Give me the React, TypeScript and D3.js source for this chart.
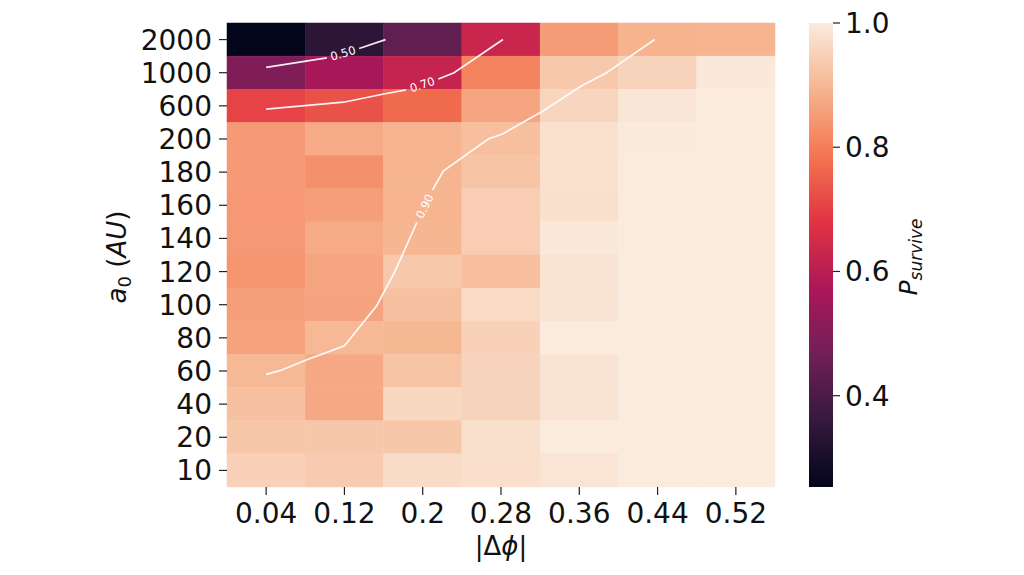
import * as d3 from "d3"

// columns and rows of the heatmap
const dphiLabels = ["0.04", "0.12", "0.2", "0.28", "0.36", "0.44", "0.52"]
const a0Labels = ["2000", "1000", "600", "200", "180", "160", "140", "120", "100", "80", "60", "40", "20", "10"]

// P_survive per row (top to bottom), one value per |dphi| column
const pSurvive = [
  [0.253, 0.34, 0.44, 0.63, 0.852, 0.891, 0.895],
  [0.495, 0.565, 0.623, 0.81, 0.932, 0.953, 0.994],
  [0.706, 0.73, 0.767, 0.869, 0.957, 0.99, 1.0],
  [0.848, 0.876, 0.895, 0.914, 0.98, 0.998, 1.0],
  [0.848, 0.831, 0.895, 0.924, 0.98, 1.0, 1.0],
  [0.845, 0.855, 0.895, 0.942, 0.978, 1.0, 1.0],
  [0.846, 0.876, 0.897, 0.942, 0.997, 1.0, 1.0],
  [0.841, 0.869, 0.932, 0.914, 0.985, 1.0, 1.0],
  [0.858, 0.865, 0.916, 0.967, 0.985, 1.0, 1.0],
  [0.862, 0.901, 0.899, 0.949, 1.0, 1.0, 1.0],
  [0.903, 0.872, 0.924, 0.953, 0.985, 1.0, 1.0],
  [0.918, 0.872, 0.963, 0.953, 0.986, 1.0, 1.0],
  [0.928, 0.93, 0.93, 0.978, 1.0, 1.0, 1.0],
  [0.949, 0.938, 0.971, 0.977, 0.987, 1.0, 1.0],
]

// contour lines as [|dphi|, row position], split where the label sits
const contour050 = [
  [[0.04, 0.84], [0.102, 0.55]],
  [[0.135, 0.27], [0.162, 0.0]],
]
const contour070 = [
  [[0.04, 2.1], [0.119, 1.89], [0.159, 1.65], [0.183, 1.52]],
  [[0.216, 1.19], [0.232, 1.0], [0.282, 0.0]],
]
const contour090 = [
  [[0.437, 0.0], [0.387, 1.02], [0.362, 1.4], [0.322, 2.17], [0.282, 2.84], [0.267, 3.0], [0.221, 3.97], [0.21, 4.54]],
  [[0.194, 5.52], [0.181, 6.38], [0.172, 6.97], [0.153, 8.03], [0.12, 9.24], [0.081, 9.67], [0.054, 9.99], [0.04, 10.1]],
]
const contourLevels = ["0.50", "0.70", "0.90"]

const cbarTicks = [0.4, 0.6, 0.8, 1.0]
const vMin = 0.253
const vMax = 1.0

// seaborn "rocket" anchors
const rocket = ["#03051a", "#35193e", "#701f57", "#ad1759", "#e13342", "#f37651", "#f6b48f", "#faebdd"]

const W = 1024
const H = 575
const plot = { left: 227, right: 775, top: 23, bottom: 487 }
const cbar = { left: 809, right: 833 }
const FONT = "DejaVu Sans"

export default function App() {
  const xBand = d3.scaleBand<string>().domain(dphiLabels).range([plot.left, plot.right])
  const yBand = d3.scaleBand<string>().domain(a0Labels).range([plot.top, plot.bottom])
  const xLin = d3.scaleLinear().domain([0, 0.08 * dphiLabels.length]).range([plot.left, plot.right])
  const yRow = d3.scaleLinear().domain([-0.5, a0Labels.length - 0.5]).range([plot.top, plot.bottom])

  const color = d3
    .scaleLinear<string>()
    .domain(rocket.map((_, i) => vMin + ((vMax - vMin) * i) / (rocket.length - 1)))
    .range(rocket)
    .interpolate(d3.interpolateRgb)
    .clamp(true)

  const cScale = d3.scaleLinear().domain([vMin, vMax]).range([plot.bottom, plot.top])

  const line = d3
    .line<number[]>()
    .x((d) => xLin(d[0]))
    .y((d) => yRow(d[1]))

  const contours = [contour050, contour070, contour090]

  return (
    <svg width={W} height={H} style={{ position: "absolute", left: 0, top: 0, background: "#fff" }} fontFamily={FONT}>
      <defs>
        <linearGradient id="rocket" x1="0" y1="1" x2="0" y2="0">
          {rocket.map((c, i) => (
            <stop key={i} offset={i / (rocket.length - 1)} stopColor={c} />
          ))}
        </linearGradient>
      </defs>

      {/* heatmap cells */}
      {pSurvive.map((row, ri) =>
        row.map((v, ci) => (
          <rect
            key={`${ri}-${ci}`}
            x={xBand(dphiLabels[ci])}
            y={yBand(a0Labels[ri])}
            width={xBand.bandwidth()}
            height={yBand.bandwidth()}
            fill={color(v)}
            stroke={color(v)}
            strokeWidth={0.5}
          />
        )),
      )}

      {/* contour lines + inline labels */}
      {contours.map((segs, k) => {
        const a = segs[0][segs[0].length - 1]
        const b = segs[1][0]
        const ax = xLin(a[0])
        const ay = yRow(a[1])
        const bx = xLin(b[0])
        const by = yRow(b[1])
        let ang = (Math.atan2(by - ay, bx - ax) * 180) / Math.PI
        if (ang > 90) ang -= 180
        if (ang < -90) ang += 180
        const mx = (ax + bx) / 2
        const my = (ay + by) / 2
        return (
          <g key={k}>
            {segs.map((s, j) => (
              <path key={j} d={line(s) ?? ""} fill="none" stroke="#ffffff" strokeWidth={1.7} strokeOpacity={0.92} />
            ))}
            <text
              transform={`translate(${mx},${my}) rotate(${ang})`}
              textAnchor="middle"
              dy="0.36em"
              fontSize={11.5}
              fill="#ffffff"
            >
              {contourLevels[k]}
            </text>
          </g>
        )
      })}

      {/* y axis */}
      {a0Labels.map((lab) => {
        const y = (yBand(lab) ?? 0) + yBand.bandwidth() / 2
        return (
          <g key={lab}>
            <line x1={plot.left - 8} x2={plot.left} y1={y} y2={y} stroke="#222" strokeWidth={1.2} />
            <text x={plot.left - 15} y={y + 10} textAnchor="end" fontSize={28} fill="#111">
              {lab}
            </text>
          </g>
        )
      })}

      {/* x axis */}
      {dphiLabels.map((lab) => {
        const x = (xBand(lab) ?? 0) + xBand.bandwidth() / 2
        return (
          <g key={lab}>
            <line x1={x} x2={x} y1={plot.bottom} y2={plot.bottom + 8} stroke="#222" strokeWidth={1.2} />
            <text x={x} y={523} textAnchor="middle" fontSize={28} fill="#111">
              {lab}
            </text>
          </g>
        )
      })}

      {/* axis labels */}
      <text transform="translate(126,257) rotate(-90)" textAnchor="middle" fontSize={26} fill="#111">
        <tspan fontStyle="italic">a</tspan>
        <tspan fontSize={18} dy={5}>0</tspan>
        <tspan dy={-5}> (</tspan>
        <tspan fontStyle="italic">AU</tspan>
        <tspan>)</tspan>
      </text>
      <text x={(plot.left + plot.right) / 2} y={555} textAnchor="middle" fontSize={26} fill="#111">
        |Δ<tspan fontStyle="italic">ϕ</tspan>|
      </text>

      {/* colorbar */}
      <rect
        x={cbar.left}
        y={plot.top}
        width={cbar.right - cbar.left}
        height={plot.bottom - plot.top}
        fill="url(#rocket)"
      />
      {cbarTicks.map((t) => (
        <g key={t}>
          <line x1={cbar.right} x2={cbar.right + 7} y1={cScale(t)} y2={cScale(t)} stroke="#222" strokeWidth={1.2} />
          <text x={cbar.right + 12} y={cScale(t) + 10} fontSize={28} fill="#111">
            {t.toFixed(1)}
          </text>
        </g>
      ))}
      <text transform="translate(917,257) rotate(-90)" textAnchor="middle" fontSize={25} fill="#111">
        <tspan fontStyle="italic">P</tspan>
        <tspan fontStyle="italic" fontSize={17} dy={5}>
          survive
        </tspan>
      </text>
    </svg>
  )
}
